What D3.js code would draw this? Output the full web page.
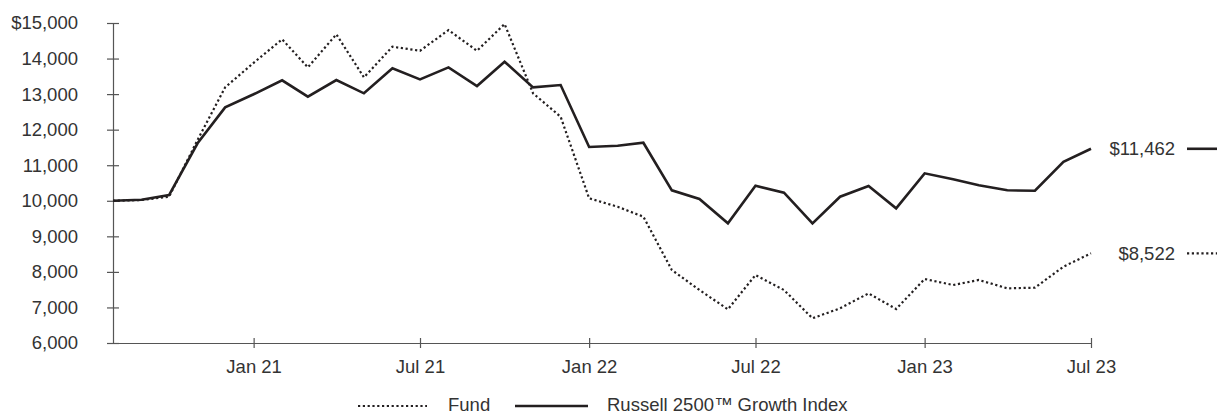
<!DOCTYPE html>
<html>
<head>
<meta charset="utf-8">
<script src="https://cdn.jsdelivr.net/npm/d3@7"></script>
<style>
  html, body { margin: 0; padding: 0; background: #fff; }
  svg { display: block; font-family: "Liberation Sans", Arial, sans-serif; }
</style>
</head>
<body>
<svg id="chart" width="1217" height="415"></svg>
<script>
// Month-end values of a $10,000 investment, Aug 2020 – Jul 2023
const months = d3.timeMonths(new Date(2020, 7, 1), new Date(2023, 7, 1));
const fundValues = [10000, 10020, 10115, 11710, 13190, 13880, 14541, 13752, 14681, 13471, 14333, 14220,
                    14800, 14220, 14971, 13022, 12364, 10069, 9833, 9552, 8053, 7490, 6948, 7912,
                    7490, 6695, 6975, 7396, 6956, 7800, 7631, 7772, 7538, 7555, 8146, 8522];
const indexValues = [10000, 10030, 10160, 11616, 12628, 12995, 13387, 12927, 13396, 13022, 13725, 13415,
                     13752, 13227, 13911, 13190, 13255, 11512, 11548, 11633, 10294, 10050, 9366, 10424,
                     10227, 9366, 10114, 10415, 9788, 10772, 10603, 10434, 10294, 10283, 11098, 11462];
const yTicks = [6000, 7000, 8000, 9000, 10000, 11000, 12000, 13000, 14000, 15000];
const xTickDates = [new Date(2021, 0, 1), new Date(2021, 6, 1), new Date(2022, 0, 1),
                    new Date(2022, 6, 1), new Date(2023, 0, 1), new Date(2023, 6, 1)];
const seriesNames = ["Fund", "Russell 2500\u2122 Growth Index"];

const ink = "#231f20";
const textColor = "#333";
const fontSize = "18.5px";

const svg = d3.select("#chart");

const x = d3.scaleTime()
  .domain([months[0], months[months.length - 1]])
  .range([113, 1091]);
const y = d3.scaleLinear()
  .domain([6000, 15000])
  .range([343, 23]);

// Y axis
const fmt = d3.format(",");
const yAxis = svg.append("g")
  .attr("transform", `translate(${x.range()[0]},0)`)
  .call(d3.axisLeft(y).tickValues(yTicks).tickSizeInner(6).tickSizeOuter(0).tickPadding(29)
    .tickFormat(d => (d === 15000 ? "$" : "") + fmt(d)));
yAxis.select(".domain").attr("stroke", "#555").attr("stroke-width", 1.2);
yAxis.selectAll(".tick line").attr("x1", 6).attr("stroke", "#555").attr("stroke-width", 1.2);
yAxis.selectAll(".tick text").attr("fill", textColor).style("font-size", fontSize)
  .attr("font-family", null);

// X axis
const xAxis = svg.append("g")
  .attr("transform", `translate(0,${y.range()[0]})`)
  .call(d3.axisBottom(x).tickValues(xTickDates).tickSizeInner(5).tickSizeOuter(0).tickPadding(12)
    .tickFormat(d3.timeFormat("%b %y")));
xAxis.select(".domain").attr("stroke", "#555").attr("stroke-width", 1.2);
xAxis.selectAll(".tick line").attr("y1", -5).attr("stroke", "#555").attr("stroke-width", 1.2);
xAxis.selectAll(".tick text").attr("fill", textColor).style("font-size", fontSize)
  .attr("font-family", null);

// Series lines
const line = d3.line()
  .x((d, i) => x(months[i]))
  .y(d => y(d));

const styles = [
  { values: fundValues, width: 2.2, dash: "2.2,2.6" },
  { values: indexValues, width: 2.6, dash: null }
];

styles.forEach(s => {
  svg.append("path")
    .datum(s.values)
    .attr("fill", "none")
    .attr("stroke", ink)
    .attr("stroke-width", s.width)
    .attr("stroke-linejoin", "miter")
    .attr("stroke-dasharray", s.dash)
    .attr("d", line);
});

// Ending value labels with line keys
styles.forEach(s => {
  const last = s.values[s.values.length - 1];
  const yy = y(last);
  svg.append("text")
    .attr("x", 1175)
    .attr("y", yy)
    .attr("dy", "0.35em")
    .attr("text-anchor", "end")
    .attr("fill", textColor)
    .style("font-size", fontSize)
    .text("$" + fmt(last));
  svg.append("line")
    .attr("x1", 1187).attr("x2", 1217)
    .attr("y1", yy).attr("y2", yy)
    .attr("stroke", ink)
    .attr("stroke-width", s.width)
    .attr("stroke-dasharray", s.dash);
});

// Legend
const legendY = 405;
const legendItems = [
  { name: seriesNames[0], x0: 358, x1: 427, tx: 448, style: styles[0] },
  { name: seriesNames[1], x0: 515, x1: 588, tx: 607, style: styles[1] }
];
legendItems.forEach(item => {
  svg.append("line")
    .attr("x1", item.x0).attr("x2", item.x1)
    .attr("y1", legendY + 1).attr("y2", legendY + 1)
    .attr("stroke", ink)
    .attr("stroke-width", item.style.width)
    .attr("stroke-dasharray", item.style.dash);
  svg.append("text")
    .attr("x", item.tx)
    .attr("y", legendY)
    .attr("dy", "0.35em")
    .attr("fill", textColor)
    .style("font-size", fontSize)
    .text(item.name);
});
</script>
</body>
</html>
